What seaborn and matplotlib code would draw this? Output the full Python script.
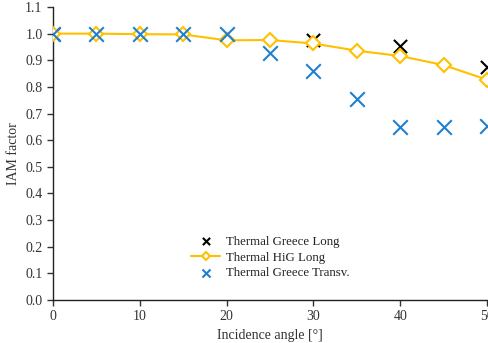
import matplotlib
matplotlib.use("Agg")
import matplotlib.pyplot as plt
import seaborn as sns
import pandas as pd

# Data
greece_long_angle = [0, 30, 40, 50]
greece_long_iam = [1.0, 0.976, 0.952, 0.875]

hig_angle = [0, 5, 10, 15, 20, 25, 30, 35, 40, 45, 50]
hig_iam = [1.0, 1.0, 0.998, 0.997, 0.975, 0.976, 0.963, 0.936, 0.916, 0.882, 0.827]

transv_angle = [0, 5, 10, 15, 20, 25, 30, 35, 40, 45, 50]
transv_iam = [1.0, 1.0, 1.0, 1.0, 1.0, 0.928, 0.861, 0.754, 0.648, 0.650, 0.655]

x_ticks = [0, 10, 20, 30, 40, 50]
y_ticks = [0.0, 0.1, 0.2, 0.3, 0.4, 0.5, 0.6, 0.7, 0.8, 0.9, 1.0, 1.1]

sns.set_theme(style="white")
plt.rcParams['font.family'] = ['Liberation Serif', 'DejaVu Serif']

fig = plt.figure(figsize=(4.88, 3.43), dpi=100)
ax = fig.add_axes([53/488, 1 - 300/343, 434/488, 293/343])

df_gl = pd.DataFrame({"x": greece_long_angle, "y": greece_long_iam})
df_hig = pd.DataFrame({"x": hig_angle, "y": hig_iam})
df_tr = pd.DataFrame({"x": transv_angle, "y": transv_iam})

yellow = "#FFC000"
blue = "#1F80D0"

sns.scatterplot(data=df_gl, x="x", y="y", ax=ax, marker="x", s=90, color="black",
                linewidth=1.5, label="Thermal Greece Long", zorder=3)
sns.lineplot(data=df_hig, x="x", y="y", ax=ax, color=yellow, linewidth=1.5,
             marker="D", markersize=7, markerfacecolor="white", markeredgecolor=yellow,
             markeredgewidth=1.5, label="Thermal HiG Long", zorder=4)
sns.scatterplot(data=df_tr, x="x", y="y", ax=ax, marker="x", s=110, color=blue,
                linewidth=1.5, label="Thermal Greece Transv.", zorder=5)

ax.set_xlim(0, 50)
ax.set_ylim(0, 1.1)
ax.set_xticks(x_ticks)
ax.set_yticks(y_ticks)
ax.set_yticklabels([f"{v:.1f}" for v in y_ticks])
ax.set_xlabel("Incidence angle [°]", fontsize=10, color="#333333")
ax.set_ylabel("IAM factor", fontsize=10, color="#333333")
ax.tick_params(axis="both", labelsize=10, colors="#333333", length=4, width=1,
               direction="out", bottom=True, left=True)
for s in ["top", "right"]:
    ax.spines[s].set_visible(False)
for s in ["left", "bottom"]:
    ax.spines[s].set_color("#222222")
    ax.spines[s].set_linewidth(1.0)

leg = ax.legend(loc="center", bbox_to_anchor=(0.5, 0.145), frameon=False, fontsize=9.3,
                handlelength=2.3, handletextpad=0.4, labelspacing=0.3, markerscale=0.55)
for t in leg.get_texts():
    t.set_color("#222222")

fig.savefig("out.png", dpi=100)
